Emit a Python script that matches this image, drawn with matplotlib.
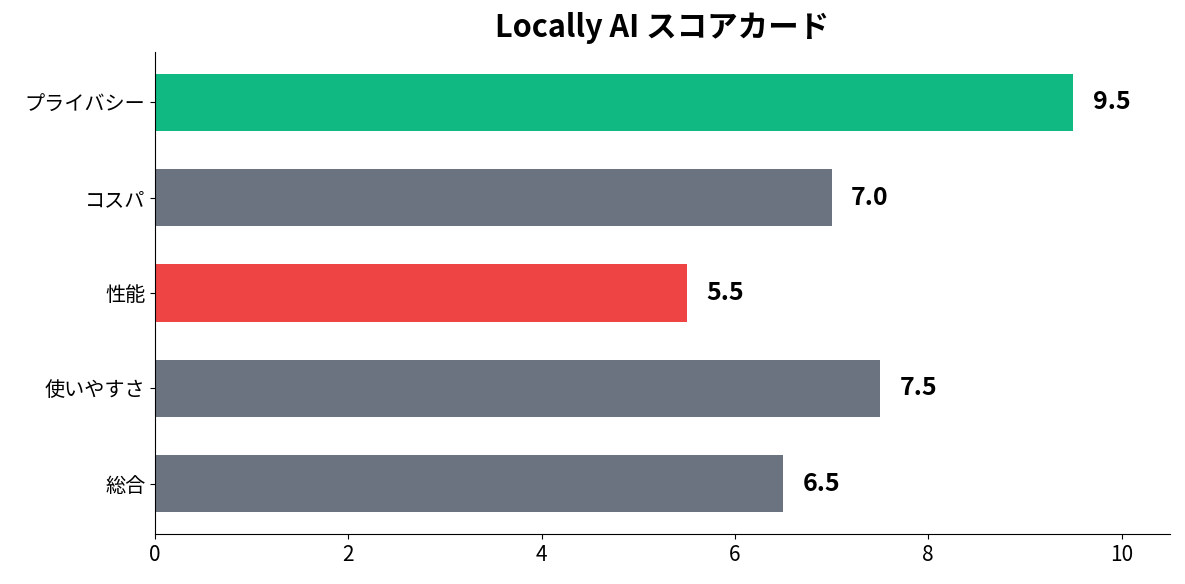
import matplotlib
matplotlib.use("Agg")
import matplotlib.pyplot as plt

plt.rcParams['font.family'] = ['Noto Sans CJK JP', 'DejaVu Sans']

categories = ["プライバシー", "コスパ", "性能", "使いやすさ", "総合"]
scores = [9.5, 7.0, 5.5, 7.5, 6.5]
colors = ["#10b981", "#6b7280", "#ef4444", "#6b7280", "#6b7280"]
title = "Locally AI スコアカード"

fig = plt.figure(figsize=(11.85, 5.84), dpi=100)
ax = fig.add_axes([0.1308, 0.0856, 0.8565, 0.8254])

ypos = list(range(len(categories)))
ax.barh(ypos, scores, height=0.6, color=colors)
ax.set_yticks(ypos)
ax.set_yticklabels(categories, fontsize=14.5)
ax.invert_yaxis()
ax.set_xlim(0, 10.5)
ax.tick_params(axis='x', labelsize=15)
for y, v in zip(ypos, scores):
    ax.text(v + 0.2, y, f"{v:.1f}", va='center', ha='left', fontsize=18, fontweight='bold')
ax.set_title(title, fontsize=22, fontweight='bold', pad=11)
ax.spines['top'].set_visible(False)
ax.spines['right'].set_visible(False)

fig.savefig("out.png", dpi=100)
